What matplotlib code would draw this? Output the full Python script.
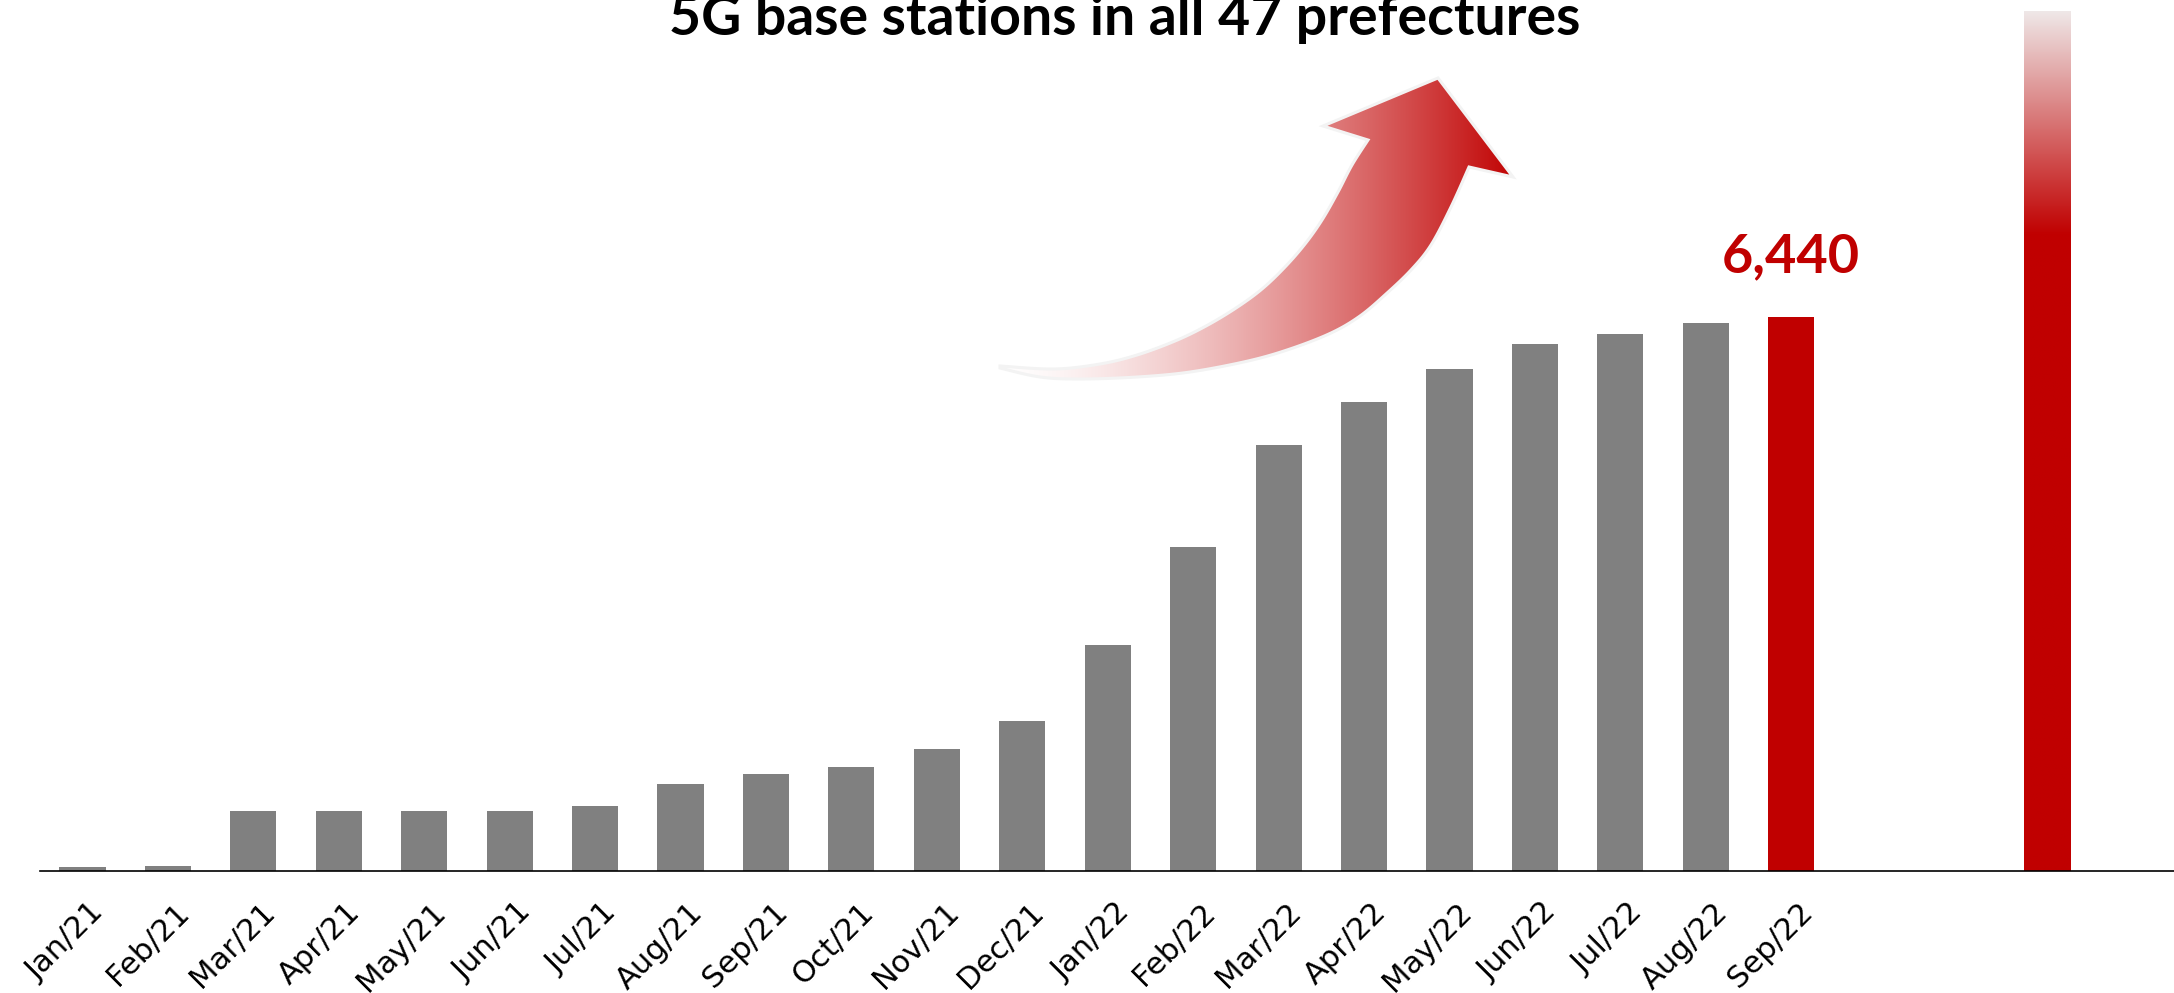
import numpy as np
import matplotlib
matplotlib.use("Agg")
import matplotlib.pyplot as plt
from matplotlib.path import Path
from matplotlib.patches import PathPatch
from matplotlib.colors import to_rgb
from matplotlib.transforms import ScaledTranslation

# ---- data -------------------------------------------------------------
months = ["Jan/21", "Feb/21", "Mar/21", "Apr/21", "May/21", "Jun/21", "Jul/21",
          "Aug/21", "Sep/21", "Oct/21", "Nov/21", "Dec/21", "Jan/22", "Feb/22",
          "Mar/22", "Apr/22", "May/22", "Jun/22", "Jul/22", "Aug/22", "Sep/22"]
stations = [50, 60, 700, 700, 700, 700, 750, 1010, 1130, 1210, 1420, 1740,
            2630, 3770, 4950, 5450, 5840, 6130, 6240, 6370, 6440]
target_value = 10000          # goal bar on the far right
target_slot = 23              # x slot of the goal bar
highlight_label = "6,440"
title_text = "5G base stations in all 47 prefectures"

GRAY = "#808080"
RED = "#c00000"
PALE = "#efe8e8"

W, H = 2174, 993
fig = plt.figure(figsize=(W / 100, H / 100), dpi=100)
fig.patch.set_facecolor("white")

# ---- bar chart ----------------------------------------------------------
ax = fig.add_axes([40 / W, (H - 871) / H, 1 - 40 / W, 871 / H])
x = np.arange(len(months))
bar_w = 0.54
colors = [GRAY] * (len(months) - 1) + [RED]
ax.bar(x, stations, width=bar_w, color=colors, zorder=2)

# goal bar: solid red that fades out towards the top
goal = ax.bar([target_slot], [target_value], width=bar_w, color="none",
              edgecolor="none", zorder=2)[0]
ys = np.linspace(0, target_value, 400)
solid_top = 0.74 * target_value
f = np.clip((ys - solid_top) / (target_value - solid_top), 0, 1)[:, None]
grad = np.array(to_rgb(RED)) * (1 - f) + np.array(to_rgb(PALE)) * f
img = ax.imshow(grad[:, None, :], origin="lower", aspect="auto",
                extent=[target_slot - bar_w / 2, target_slot + bar_w / 2, 0, target_value],
                zorder=2, interpolation="bilinear")
img.set_clip_path(goal)

ax.set_xlim(-0.497, 24.48)
ax.set_ylim(0, 10125)
for side in ("top", "right", "left"):
    ax.spines[side].set_visible(False)
ax.spines["bottom"].set_linewidth(1.2)
ax.spines["bottom"].set_color("black")
ax.spines["bottom"].set_zorder(3)
ax.set_yticks([])
ax.set_xticks(x)
ax.set_xticklabels(months, rotation=45, ha="right", va="top",
                   rotation_mode="anchor", fontsize=22, family="DejaVu Sans")
ax.tick_params(axis="x", length=0, pad=19)
shift = ScaledTranslation(7 / 100, 0, fig.dpi_scale_trans)
for lab in ax.get_xticklabels():
    lab.set_transform(lab.get_transform() + shift)

ax.annotate(highlight_label, xy=(x[-1], stations[-1]), xytext=(0, 32),
            textcoords="offset points", ha="center", va="baseline",
            color=RED, fontsize=39, fontweight="bold", family="Lato")

# ---- title ------------------------------------------------------------
title = fig.text(1125 / W, (H - 35) / H, title_text, ha="center", va="baseline",
                 fontsize=40, fontweight="bold", family="Lato", color="black")
renderer = fig.canvas.get_renderer()
wpx = title.get_window_extent(renderer).width
title.set_fontsize(40 * 911 / wpx)

# ---- rising arrow -------------------------------------------------------
ov = fig.add_axes([0, 0, 1, 1], zorder=5)
ov.set_xlim(0, W)
ov.set_ylim(H, 0)
ov.axis("off")
ov.patch.set_alpha(0)


def catmull(pts, n=14):
    pts = np.asarray(pts, float)
    p = np.vstack([pts[0], pts, pts[-1]])
    out = []
    for i in range(1, len(p) - 2):
        p0, p1, p2, p3 = p[i - 1], p[i], p[i + 1], p[i + 2]
        for t in np.linspace(0, 1, n, endpoint=False):
            t2, t3 = t * t, t * t * t
            out.append(0.5 * ((2 * p1) + (-p0 + p2) * t +
                              (2 * p0 - 5 * p1 + 4 * p2 - p3) * t2 +
                              (-p0 + 3 * p1 - 3 * p2 + p3) * t3))
    out.append(pts[-1])
    return np.array(out)


upper = [(1000, 366), (1054, 369), (1100, 364), (1137, 355), (1175, 341),
         (1206, 326), (1236, 308), (1262, 289), (1285, 267), (1305, 244),
         (1322, 220), (1338, 192), (1352, 165), (1368, 140)]
lower = [(1469, 167), (1451, 207), (1431, 245), (1411, 270), (1386, 294),
         (1360, 316), (1331, 333), (1290, 349), (1248, 361), (1190, 372),
         (1137, 377), (1080, 379), (1040, 377), (1000, 368)]
head = [(1323, 126), (1438, 78), (1513, 177)]

outline = np.vstack([catmull(upper), np.array(head), catmull(lower)])
codes = [Path.MOVETO] + [Path.LINETO] * (len(outline) - 1) + [Path.CLOSEPOLY]
arrow_path = Path(np.vstack([outline, outline[:1]]), codes)

xs = np.linspace(0, 1, 300)
fr = xs ** 1.5
arr_grad = (np.array([1.0, 1.0, 1.0]) * (1 - fr[:, None]) +
            np.array(to_rgb(RED)) * fr[:, None])
arrow_img = ov.imshow(arr_grad[None, :, :], aspect="auto",
                      extent=[995, 1518, 380, 74], interpolation="bilinear")
shape = PathPatch(arrow_path, facecolor="none", edgecolor="#f3f3f3", lw=2.2)
ov.add_patch(shape)
arrow_img.set_clip_path(shape)

fig.savefig("out.png", dpi=100, facecolor="white")
